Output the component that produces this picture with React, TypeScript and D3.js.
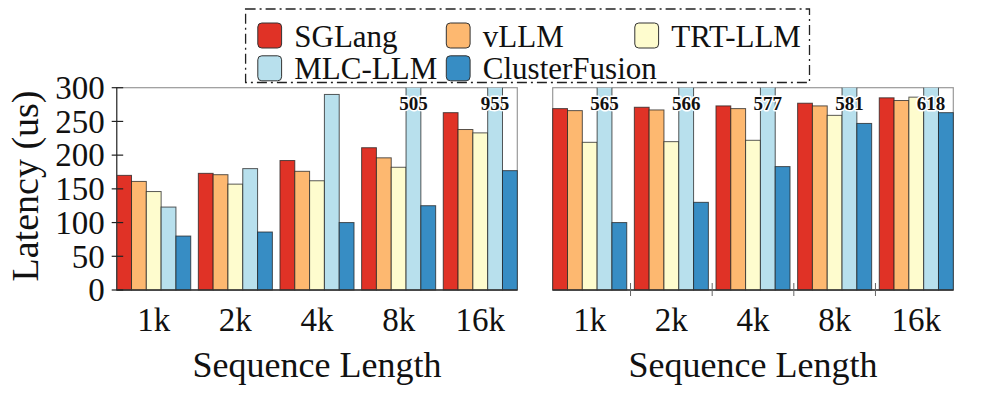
import React from "react";
import * as d3 from "d3";

const categories = ["1k", "2k", "4k", "8k", "16k"];
const seriesNames = ["SGLang", "vLLM", "TRT-LLM", "MLC-LLM", "ClusterFusion"];
const seriesColors = ["#e03226", "#fdb870", "#fefcce", "#b8e0ed", "#378dc4"];

// Left panel
const sglangLeft = [170, 173, 192, 211, 263];
const vllmLeft = [161, 171, 176, 196, 238];
const trtLeft = [146, 157, 162, 182, 233];
const mlcLeft = [123, 180, 290, 505, 955];
const cfLeft = [80, 86, 100, 125, 177];

// Right panel
const sglangRight = [269, 271, 273, 277, 285];
const vllmRight = [266, 267, 269, 273, 281];
const trtRight = [219, 220, 222, 259, 286];
const mlcRight = [565, 566, 577, 581, 618];
const cfRight = [100, 130, 183, 247, 263];

const yTicks = [0, 50, 100, 150, 200, 250, 300];
const yMax = 300;

const FONT = "'Liberation Serif', 'Times New Roman', serif";

type PanelProps = {
  x0: number;
  x1: number;
  data: number[][];
  showYAxis: boolean;
  showGroupTicks: boolean;
};

const Y_TOP = 87.7;
const Y_BOT = 290;

function Panel({ x0, x1, data, showYAxis, showGroupTicks }: PanelProps) {
  const y = d3.scaleLinear().domain([0, yMax]).range([Y_BOT, Y_TOP]);
  const xb = d3.scaleBand<string>().domain(categories).range([x0, x1]).paddingInner(0.093).paddingOuter(0);
  const xs = d3.scaleBand<string>().domain(seriesNames).range([0, xb.bandwidth()]).padding(0);
  const clipId = `clip-${Math.round(x0)}`;
  const step = xb.step();
  const gap = step - xb.bandwidth();
  return (
    <g>
      <defs>
        <clipPath id={clipId}>
          <rect x={x0 - 1} y={Y_TOP} width={x1 - x0 + 2} height={Y_BOT - Y_TOP + 1} />
        </clipPath>
      </defs>
      <rect x={x0} y={Y_TOP} width={x1 - x0} height={Y_BOT - Y_TOP} fill="white" stroke="#999" strokeWidth={1.2} />
      <g clipPath={`url(#${clipId})`}>
        {categories.map((c, ci) =>
          seriesNames.map((s, si) => {
            const v = data[si][ci];
            const top = y(Math.min(v, yMax + 10));
            return (
              <rect
                key={c + s}
                x={(xb(c) as number) + (xs(s) as number)}
                y={top}
                width={xs.bandwidth()}
                height={Y_BOT - top}
                fill={seriesColors[si]}
                stroke="#222"
                strokeOpacity={0.75}
                strokeWidth={1}
              />
            );
          })
        )}
      </g>
      {categories.map((c, ci) => {
        const v = data[3][ci];
        if (v <= yMax) return null;
        const cx = (xb(c) as number) + (xs("MLC-LLM") as number) + xs.bandwidth() / 2;
        return (
          <text
            key={"lbl" + c}
            x={cx}
            y={109.5}
            textAnchor="middle"
            fontFamily={FONT}
            fontWeight="bold"
            fontSize={19}
            fill="#111"
            stroke="white"
            strokeWidth={3}
            paintOrder="stroke"
            strokeLinejoin="round"
          >
            {v}
          </text>
        );
      })}
      <line x1={x0} x2={x1} y1={Y_BOT} y2={Y_BOT} stroke="#333" strokeWidth={1.3} />
      {showYAxis && <line x1={x0} x2={x0} y1={Y_TOP} y2={Y_BOT} stroke="#444" strokeWidth={1.3} />}
      {showYAxis &&
        yTicks.map((t) => (
          <g key={"yt" + t}>
            <line x1={x0 - 5} x2={x0 + 6.5} y1={y(t)} y2={y(t)} stroke="#222" strokeWidth={1.2} />
            <text x={x0 - 12} y={y(t)} dy="0.34em" textAnchor="end" fontFamily={FONT} fontSize={33} fill="#111">
              {t}
            </text>
          </g>
        ))}
      {showGroupTicks &&
        categories.slice(1).map((c) => {
          const bx = (xb(c) as number) - gap / 2;
          return <line key={"gt" + c} x1={bx} x2={bx} y1={283} y2={296} stroke="#666" strokeWidth={1} />;
        })}
      {categories.map((c) => (
        <text
          key={"xt" + c}
          x={(xb(c) as number) + xb.bandwidth() / 2}
          y={331}
          textAnchor="middle"
          fontFamily={FONT}
          fontSize={33}
          fill="#111"
        >
          {c}
        </text>
      ))}
      <text x={(x0 + x1) / 2} y={377} textAnchor="middle" fontFamily={FONT} fontSize={36} fill="#111">
        Sequence Length
      </text>
    </g>
  );
}

function Legend() {
  const cols = [257.8, 446.3, 634.8];
  const rows = [23, 55.8];
  return (
    <g>
      <rect
        x={245.6}
        y={9}
        width={809.5 - 245.6}
        height={82.5 - 9}
        fill="white"
        stroke="#222"
        strokeWidth={1.3}
        strokeDasharray="10,4,2,4"
      />
      {seriesNames.map((s, i) => {
        const col = i % 3;
        const row = Math.floor(i / 3);
        const sx = cols[col];
        const sy = rows[row];
        return (
          <g key={"lg" + s}>
            <rect x={sx} y={sy} width={23.8} height={25} rx={4} ry={4} fill={seriesColors[i]} stroke="#333" strokeWidth={1} />
            <text x={sx + 36.5} y={sy + 23.5} fontFamily={FONT} fontSize={31} fill="#111">
              {s}
            </text>
          </g>
        );
      })}
    </g>
  );
}

export default function App() {
  const leftData = [sglangLeft, vllmLeft, trtLeft, mlcLeft, cfLeft];
  const rightData = [sglangRight, vllmRight, trtRight, mlcRight, cfRight];
  return (
    <svg
      width={996}
      height={397}
      style={{ position: "absolute", left: 0, top: 0, background: "white" }}
      xmlns="http://www.w3.org/2000/svg"
    >
      <rect x={0} y={0} width={996} height={397} fill="white" />
      <Panel x0={116.7} x1={517.3} data={leftData} showYAxis={true} showGroupTicks={false} />
      <Panel x0={552.7} x1={953.3} data={rightData} showYAxis={false} showGroupTicks={true} />
      <text
        transform="translate(38,186) rotate(-90)"
        textAnchor="middle"
        fontFamily={FONT}
        fontSize={38}
        fill="#111"
      >
        Latency (us)
      </text>
      <Legend />
    </svg>
  );
}
